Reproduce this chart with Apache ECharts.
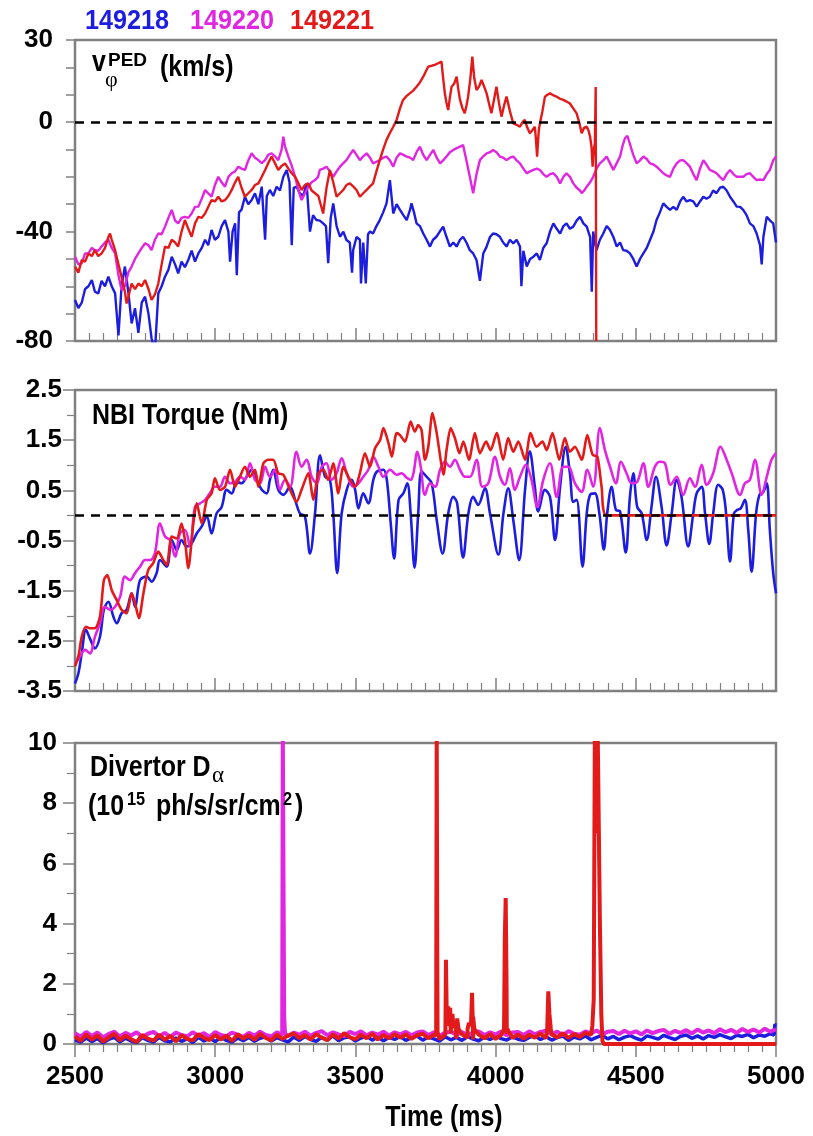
<!DOCTYPE html>
<html><head><meta charset="utf-8">
<script src="https://cdn.jsdelivr.net/npm/echarts@6/dist/echarts.min.js"></script>
<style>html,body{margin:0;padding:0;background:#fff}#c{width:813px;height:1136px}</style>
</head><body><div id="c"></div>
<script>
// ---------- DATA ----------
const shots = ['149218', '149220', '149221'];
const colors = ['#1d1de0', '#e026e0', '#e21a1a'];

// Panel 1: pedestal toroidal rotation (km/s), [time ms, value]
const vpedBlue = [[2500,-65],[2512,-68],[2524,-66],[2536,-61],[2548,-60],[2560,-57.7],[2571,-62],[2583,-62.6],[2595,-58],[2607,-60],[2619,-56.5],[2631,-60],[2643,-62.6],[2655,-78],[2666,-60],[2678,-52.8],[2690,-62],[2702,-73.6],[2714,-68],[2726,-77],[2738,-66],[2750,-63.8],[2762,-70],[2773,-79],[2785,-84],[2797,-62.6],[2809,-60],[2821,-56.5],[2833,-54],[2845,-49.2],[2857,-52],[2868,-55.3],[2880,-51],[2892,-53],[2904,-50.4],[2916,-47],[2928,-51],[2940,-48],[2952,-46],[2964,-43],[2975,-45],[2987,-39.4],[2999,-43],[3011,-41.9],[3023,-38],[3035,-35.8],[3047,-40],[3053,-51],[3062,-40],[3071,-37],[3077,-56],[3085,-33],[3094,-32],[3106,-27.3],[3118,-30],[3130,-28.5],[3142,-26],[3154,-30],[3166,-23.6],[3178,-43],[3184,-27],[3195,-24.8],[3207,-27],[3219,-23.6],[3231,-25],[3243,-20],[3255,-17.5],[3265,-22],[3273,-45],[3280,-24],[3290,-23.6],[3302,-26],[3314,-27],[3326,-22.4],[3338,-40],[3349,-34],[3361,-35.8],[3373,-36],[3385,-37],[3395,-38],[3403,-51.6],[3412,-35],[3421,-29.7],[3433,-38],[3445,-41.9],[3457,-40],[3468,-43.1],[3480,-44],[3488,-55],[3492,-46.8],[3504,-42],[3516,-43],[3520,-59],[3528,-44],[3537,-59],[3545,-41],[3552,-40],[3563,-40.7],[3575,-38],[3587,-35.8],[3599,-33],[3611,-29.7],[3623,-21.2],[3635,-33.4],[3647,-30],[3659,-32.1],[3671,-34],[3683,-35.8],[3695,-32],[3700,-29.7],[3709,-33],[3718,-37],[3730,-38],[3742,-40.7],[3754,-43],[3766,-45.5],[3777,-43],[3789,-41.9],[3801,-40],[3813,-38.2],[3825,-42],[3837,-45.5],[3849,-44],[3861,-45.5],[3873,-43],[3884,-41.9],[3896,-44],[3908,-46.8],[3920,-48],[3932,-50.4],[3944,-58],[3956,-48],[3968,-45.5],[3980,-42],[3991,-40.7],[4003,-41],[4015,-41.9],[4027,-44],[4039,-45.5],[4051,-43],[4063,-44.3],[4075,-43],[4087,-45.5],[4092,-60],[4099,-47],[4111,-52.8],[4123,-50],[4135,-49.2],[4147,-48],[4158,-50.4],[4170,-46],[4182,-44.3],[4194,-40],[4206,-37],[4218,-39],[4230,-40.7],[4242,-38],[4253,-37],[4265,-39],[4277,-38.2],[4289,-36],[4301,-34.6],[4313,-37],[4325,-38.2],[4337,-42],[4343,-62],[4348,-40],[4354,-44],[4360,-46.8],[4372,-43],[4384,-40.7],[4396,-38],[4408,-39.4],[4420,-42],[4432,-45.5],[4444,-44],[4455,-46.8],[4467,-47],[4479,-48],[4491,-50],[4503,-52.8],[4515,-50],[4527,-48],[4539,-46],[4551,-43],[4563,-40],[4574,-35.8],[4586,-33],[4598,-29.7],[4610,-31],[4622,-32.1],[4634,-31],[4646,-32.1],[4658,-29],[4669,-27.3],[4681,-29],[4693,-28.5],[4705,-29],[4717,-30.9],[4729,-29],[4741,-27.3],[4752,-28],[4764,-27.3],[4776,-25],[4788,-26],[4800,-24],[4812,-23.6],[4824,-25],[4836,-27.3],[4848,-29],[4860,-30.9],[4872,-31],[4883,-32.1],[4895,-34],[4907,-37],[4919,-38],[4931,-40.7],[4943,-45],[4949,-52],[4955,-42],[4967,-34.6],[4979,-36],[4990,-37],[5000,-44]];
const vpedMagenta = [[2500,-49.2],[2512,-52],[2524,-51.6],[2536,-48],[2548,-48],[2560,-46],[2571,-46.8],[2583,-47],[2595,-45.5],[2607,-44],[2619,-43],[2631,-46],[2643,-48],[2655,-56],[2666,-61.4],[2678,-60],[2690,-55],[2702,-52.8],[2714,-50],[2726,-48],[2738,-46],[2750,-44.3],[2762,-45],[2773,-46.8],[2785,-43],[2797,-40.7],[2809,-41],[2821,-38.2],[2833,-35],[2845,-32.1],[2857,-36],[2868,-37],[2880,-35],[2892,-34.6],[2904,-35],[2916,-33.4],[2928,-31],[2940,-30.9],[2952,-28],[2964,-24.8],[2975,-26],[2987,-27.3],[2999,-23],[3011,-20],[3023,-22],[3035,-23.6],[3047,-20],[3059,-18.7],[3071,-18],[3082,-16.3],[3094,-17],[3106,-17.5],[3118,-14],[3130,-11.4],[3142,-13],[3154,-13.9],[3166,-15],[3178,-13.9],[3189,-12],[3201,-11.4],[3213,-12.5],[3225,-13.9],[3237,-10],[3243,-5.3],[3249,-9],[3261,-12.6],[3273,-16],[3285,-20],[3297,-25],[3308,-28.5],[3320,-26],[3332,-23.6],[3344,-22],[3356,-21.2],[3367,-20],[3373,-17.5],[3385,-17],[3397,-16.3],[3409,-18],[3421,-20],[3433,-18],[3445,-16.3],[3457,-15],[3468,-13.9],[3480,-12],[3492,-10.2],[3504,-12],[3516,-13.9],[3528,-12.5],[3540,-11.4],[3552,-13],[3563,-15.1],[3575,-14.5],[3587,-13.9],[3599,-13],[3611,-12.6],[3623,-14],[3635,-16.3],[3647,-13],[3659,-11.4],[3671,-12],[3683,-12.6],[3695,-13],[3706,-13.9],[3718,-11],[3730,-9],[3742,-12],[3754,-13.9],[3766,-12],[3778,-10.2],[3790,-13],[3802,-15.1],[3813,-14],[3825,-12.6],[3837,-11],[3849,-10.2],[3861,-9.5],[3873,-9],[3884,-8.4],[3896,-14],[3908,-20],[3920,-26],[3932,-19],[3944,-13.9],[3956,-12.5],[3968,-11.4],[3980,-11],[3991,-10.2],[4003,-11],[4015,-12.6],[4027,-13],[4039,-13.9],[4051,-13],[4063,-12.6],[4075,-14],[4087,-15.1],[4099,-17],[4111,-18.7],[4123,-18],[4135,-17.5],[4147,-17],[4158,-17.5],[4170,-19],[4182,-20],[4194,-19],[4206,-18.7],[4218,-20],[4230,-22.4],[4242,-20],[4253,-18.7],[4265,-20],[4277,-22.4],[4289,-24],[4301,-25],[4307,-26],[4316,-25],[4325,-23.6],[4337,-22],[4348,-20],[4360,-17],[4372,-15.1],[4384,-14],[4396,-12.6],[4408,-15],[4420,-17.5],[4432,-15],[4444,-12.6],[4452,-9],[4461,-6],[4470,-5],[4479,-8],[4491,-12],[4503,-15.1],[4515,-14],[4527,-12.6],[4539,-13.5],[4551,-15.1],[4563,-15.5],[4574,-16.3],[4586,-17.5],[4598,-18.7],[4610,-19.5],[4622,-20],[4634,-17],[4646,-15.1],[4658,-14],[4669,-13.9],[4681,-15],[4693,-16.3],[4705,-19],[4717,-21.2],[4729,-17],[4741,-13.9],[4752,-15.5],[4764,-17.5],[4776,-18],[4788,-18.7],[4800,-20],[4812,-21.2],[4824,-19],[4836,-17.5],[4848,-19],[4860,-20],[4872,-20],[4883,-20],[4895,-19],[4907,-18.7],[4919,-20],[4931,-21.2],[4943,-21],[4955,-21.2],[4967,-19],[4978,-17.5],[4990,-14],[5000,-12.6]];
const vpedRed = [[2500,-52.8],[2512,-55],[2524,-50.4],[2536,-51],[2548,-48],[2560,-49],[2571,-46.8],[2583,-49],[2595,-48],[2607,-46],[2619,-42],[2625,-40.7],[2631,-43],[2643,-46.8],[2655,-52],[2666,-56.5],[2678,-62],[2684,-66.3],[2690,-64],[2702,-59],[2714,-61],[2726,-59],[2738,-60],[2750,-57.7],[2762,-61],[2773,-65],[2785,-63],[2797,-59],[2809,-52],[2821,-45.5],[2833,-46],[2845,-43],[2857,-44],[2868,-45.5],[2880,-40],[2892,-35.8],[2904,-39],[2916,-41.9],[2928,-37],[2940,-34.6],[2952,-35],[2964,-33.4],[2975,-31],[2987,-28.5],[2999,-29],[3011,-27.3],[3023,-29],[3035,-28.5],[3047,-27],[3059,-24.8],[3071,-22],[3082,-20],[3094,-24],[3106,-27.3],[3118,-26],[3130,-24.8],[3142,-23],[3154,-22.4],[3166,-20],[3178,-17.5],[3189,-15],[3201,-12.6],[3213,-15],[3225,-17.5],[3237,-16],[3249,-15.1],[3261,-17],[3273,-18.7],[3285,-20],[3297,-22.4],[3308,-24.8],[3320,-23],[3332,-22.4],[3344,-25],[3356,-26],[3368,-27],[3373,-27.3],[3385,-33.4],[3397,-24],[3409,-17.5],[3421,-22],[3433,-27.3],[3445,-26],[3457,-24.8],[3468,-23],[3480,-22.4],[3492,-23.5],[3504,-24.8],[3516,-27.3],[3528,-26],[3540,-24.8],[3552,-23.5],[3563,-22.4],[3575,-18],[3587,-13.9],[3599,-10],[3611,-6.5],[3623,-4],[3635,-1.7],[3647,0.8],[3659,5],[3670,8.1],[3682,9.5],[3694,10.5],[3706,11.5],[3718,12.9],[3730,14.5],[3742,16.6],[3751,18.5],[3760,20.3],[3772,20.6],[3783,20.9],[3795,21.5],[3807,22.1],[3813,16],[3819,10.5],[3825,7],[3831,4.4],[3837,9],[3843,12.9],[3852,14],[3861,16.6],[3867,12],[3873,8.1],[3882,5],[3890,3.2],[3896,6],[3902,9.3],[3910,16],[3917,23.9],[3924,16],[3932,11.7],[3941,13],[3950,15.4],[3959,13],[3968,10.5],[3976,7],[3985,3.2],[3994,8],[4003,12.9],[4012,7],[4021,2],[4030,6],[4039,9.3],[4051,4],[4063,-0.5],[4075,-1],[4087,-1.7],[4096,0],[4104,0.8],[4113,-2],[4122,-4.1],[4131,-3],[4140,-1.7],[4144,-6.5],[4148,-12.6],[4154,-3],[4158,-0.5],[4167,4],[4176,9.3],[4185,10],[4194,10.5],[4206,9.8],[4218,9.3],[4230,8.5],[4242,8.1],[4253,7.5],[4265,6.8],[4277,5],[4289,3.2],[4298,0],[4307,-4.1],[4316,-2],[4325,-1.7],[4331,-3],[4337,-5.3],[4342,-9],[4346,-16.3],[4350,-10],[4354,-7.8],[4357,12.8],[4359,-80]];

// Panel 2: NBI torque (Nm)
const tqBlue = [[2500,-3.35],[2512,-3.15],[2524,-2.75],[2539,-2.28],[2553,-2.45],[2571,-2.65],[2589,-2.42],[2603,-1.88],[2619,-1.72],[2637,-2.02],[2649,-2.15],[2666,-1.95],[2684,-1.88],[2702,-1.55],[2714,-1.82],[2732,-1.29],[2756,-1.22],[2773,-1.32],[2791,-1.15],[2803,-0.89],[2827,-1.02],[2845,-0.49],[2863,-0.69],[2880,-0.49],[2898,-0.62],[2916,-0.56],[2934,-0.36],[2952,-0.22],[2970,-0.02],[2987,-0.36],[3005,0.04],[3023,0.17],[3041,0.51],[3059,0.44],[3077,0.67],[3094,0.64],[3112,0.77],[3130,0.91],[3148,0.71],[3166,0.51],[3184,0.44],[3195,0.71],[3207,0.91],[3225,0.51],[3243,0.41],[3267,0.57],[3285,0.31],[3302,0.04],[3320,-0.02],[3338,-0.76],[3356,0.04],[3374,1.2],[3392,0.77],[3409,0.71],[3421,0.04],[3435,-1.15],[3451,0.04],[3469,0.51],[3487,0.71],[3499,0.51],[3511,0.14],[3528,0.44],[3546,0.24],[3564,0.71],[3576,0.87],[3600,0.91],[3612,0.71],[3626,-0.16],[3638,-0.86],[3654,0.31],[3671,0.44],[3685,0.64],[3697,0.04],[3711,-1.04],[3724,0.04],[3736,0.88],[3754,0.77],[3772,0.64],[3790,-0.09],[3811,-0.76],[3831,0.04],[3849,0.37],[3863,0.24],[3884,-0.84],[3903,0.04],[3920,0.37],[3938,0.21],[3962,0.54],[3980,0.04],[4010,-0.78],[4028,0.04],[4045,0.54],[4063,-0.09],[4084,-0.89],[4105,0.51],[4122,1.28],[4140,0.57],[4152,0.08],[4176,0.51],[4194,0.37],[4212,-0.49],[4230,0.57],[4250,1.37],[4265,0.84],[4277,0.27],[4289,0.31],[4310,-1.02],[4325,0.04],[4337,0.41],[4354,0.44],[4370,0.04],[4386,-0.68],[4398,0.04],[4414,0.57],[4429,0.11],[4444,0.08],[4464,-0.74],[4479,0.37],[4491,0.84],[4505,0.17],[4521,0.04],[4539,-0.49],[4556,0.17],[4572,0.77],[4592,0.17],[4610,-0.6],[4628,0.04],[4646,0.71],[4663,0.37],[4687,-0.62],[4705,0.04],[4717,0.44],[4735,0.57],[4747,0.04],[4762,-0.57],[4776,0.04],[4794,0.61],[4810,0.51],[4822,0.04],[4836,-0.92],[4850,0.04],[4862,0.11],[4874,0.14],[4889,0.31],[4901,-0.29],[4913,-1.12],[4929,0.04],[4941,0.41],[4955,0.47],[4967,0.64],[4978,-0.29],[4990,-1.15],[5000,-1.55]];
const tqMagenta = [[2500,-2.95],[2518,-2.81],[2536,-2.68],[2553,-2.75],[2571,-2.42],[2589,-2.15],[2607,-1.82],[2625,-1.88],[2643,-1.82],[2661,-1.62],[2678,-1.22],[2696,-1.29],[2714,-1.15],[2732,-1.02],[2750,-0.89],[2767,-0.89],[2785,-0.75],[2803,-0.16],[2821,-0.42],[2839,-0.49],[2857,-0.82],[2874,-0.36],[2892,-0.29],[2910,-0.62],[2928,0.17],[2946,0.24],[2964,0.31],[2981,0.44],[2999,0.57],[3017,0.57],[3035,0.77],[3053,0.64],[3071,0.67],[3088,0.77],[3106,0.71],[3124,1.04],[3142,0.71],[3160,0.64],[3178,0.97],[3195,0.77],[3213,0.91],[3231,0.51],[3249,0.71],[3267,0.57],[3290,1.27],[3308,0.97],[3326,1.11],[3344,0.77],[3362,0.64],[3380,0.97],[3397,1.04],[3415,0.71],[3433,0.84],[3451,1.14],[3469,0.84],[3493,0.57],[3511,0.64],[3528,0.77],[3546,0.91],[3564,1.17],[3582,0.97],[3600,0.77],[3624,0.91],[3647,0.81],[3665,0.84],[3683,0.75],[3697,0.71],[3707,0.84],[3721,1.27],[3733,0.97],[3748,0.41],[3766,0.64],[3784,0.57],[3802,0.91],[3819,1.07],[3837,0.97],[3855,1.11],[3873,0.91],[3891,0.77],[3909,0.77],[3932,1.11],[3953,0.57],[3974,0.64],[3998,1.17],[4016,0.77],[4033,0.61],[4051,0.94],[4069,0.51],[4087,0.77],[4108,1.01],[4128,0.71],[4149,0.17],[4170,0.71],[4194,1.04],[4218,0.37],[4241,0.97],[4259,0.97],[4283,0.64],[4307,0.47],[4327,0.91],[4348,0.57],[4372,1.74],[4390,1.3],[4408,0.97],[4429,0.64],[4447,1.07],[4467,0.84],[4485,0.64],[4505,0.67],[4527,1.04],[4545,0.57],[4568,0.97],[4586,1.07],[4604,1.04],[4624,0.61],[4646,0.77],[4669,0.41],[4693,0.74],[4711,0.57],[4735,1.01],[4753,0.61],[4776,0.84],[4802,1.37],[4824,1.11],[4842,0.84],[4872,0.41],[4889,0.64],[4907,0.71],[4925,1.11],[4949,0.41],[4967,0.77],[4984,1.11],[5000,1.24]];
const tqRed = [[2500,-3.01],[2512,-2.81],[2524,-2.42],[2539,-2.22],[2553,-2.25],[2571,-2.25],[2589,-2.02],[2603,-1.29],[2615,-1.19],[2631,-1.49],[2649,-1.69],[2666,-1.88],[2684,-1.95],[2702,-1.55],[2714,-1.75],[2728,-2.05],[2744,-1.55],[2761,-1.09],[2779,-0.95],[2797,-0.72],[2815,-0.89],[2827,-0.99],[2845,-0.42],[2863,-0.46],[2880,-0.16],[2892,-0.49],[2904,-1.05],[2922,-0.16],[2934,0.24],[2952,-0.16],[2970,0.31],[2987,0.44],[2999,0.74],[3017,0.51],[3035,0.57],[3053,0.91],[3071,0.57],[3088,0.77],[3106,0.97],[3124,0.77],[3142,0.91],[3154,0.57],[3172,1.04],[3189,1.11],[3207,1.11],[3225,0.84],[3243,0.81],[3267,0.51],[3290,0.27],[3308,0.51],[3332,0.84],[3350,0.31],[3368,0.84],[3386,0.91],[3403,0.71],[3421,1.04],[3439,0.44],[3457,0.97],[3475,0.77],[3499,0.57],[3516,0.84],[3534,1.24],[3552,0.97],[3570,1.34],[3588,1.5],[3600,1.74],[3618,1.44],[3630,1.17],[3647,1.64],[3659,1.6],[3677,1.47],[3697,1.87],[3712,1.67],[3724,1.8],[3736,1.7],[3748,1.11],[3760,1.37],[3775,2.04],[3790,1.64],[3804,1.11],[3814,0.81],[3825,1.3],[3840,1.74],[3855,1.54],[3871,1.24],[3885,1.47],[3905,1.11],[3926,1.64],[3944,1.24],[3966,1.47],[3982,1.3],[4004,1.64],[4027,1.11],[4045,1.54],[4063,1.27],[4081,1.47],[4105,1.11],[4125,1.64],[4146,1.37],[4167,1.47],[4182,1.3],[4203,1.64],[4227,1.11],[4247,1.54],[4265,1.27],[4283,1.37],[4307,1.11],[4327,1.6],[4346,1.21],[4363,1.17],[4378,0.57],[4396,0],[5000,0]];

// Panel 3: divertor D-alpha; baseline sampled every 20 ms from 2500, plus spikes [t, v]
const daStart = 2500, daStep = 20;
const daBlueBase = [0.14,0.06,0.20,0.08,0.18,0.04,0.15,0.22,0.07,0.19,0.10,0.05,0.21,0.12,0.06,0.22,0.11,0.07,0.20,0.09,
0.17,0.05,0.22,0.10,0.19,0.08,0.23,0.12,0.06,0.20,0.11,0.22,0.09,0.19,0.24,0.10,0.21,0.14,0.07,0.23,
0.12,0.25,0.15,0.09,0.22,0.13,0.27,0.11,0.21,0.24,0.10,0.20,0.26,0.13,0.23,0.11,0.22,0.15,0.25,0.12,
0.21,0.26,0.13,0.23,0.17,0.10,0.24,0.14,0.22,0.12,0.25,0.16,0.11,0.23,0.15,0.26,0.18,0.13,0.24,0.16,
0.12,0.22,0.27,0.15,0.24,0.13,0.21,0.26,0.12,0.23,0.17,0.27,0.14,0.22,0.29,0.17,0.25,0.14,0.23,0.28,
0.19,0.13,0.27,0.22,0.16,0.29,0.21,0.15,0.26,0.30,0.19,0.27,0.17,0.28,0.22,0.31,0.24,0.18,0.29,0.25,
0.32,0.21,0.30,0.26,0.34,0.62];
const daBlueSpikes = [[4993,0.3],[4996,0.65]];
const daMagentaBase = [0.36,0.24,0.40,0.27,0.38,0.22,0.33,0.41,0.25,0.37,0.28,0.39,0.23,0.34,0.40,0.26,0.37,0.24,0.38,0.30,
0.25,0.39,0.27,0.36,0.23,0.40,0.30,0.26,0.38,0.31,0.24,0.37,0.28,0.41,0.30,0.25,0.39,0.32,0.26,0.38,
0.31,0.41,0.27,0.37,0.43,0.29,0.39,0.32,0.26,0.40,0.33,0.42,0.29,0.38,0.31,0.41,0.28,0.39,0.32,0.40,
0.29,0.38,0.42,0.30,0.39,0.27,0.37,0.41,0.31,0.40,0.29,0.38,0.42,0.30,0.39,0.32,0.41,0.29,0.38,0.40,
0.30,0.42,0.32,0.40,0.44,0.32,0.41,0.29,0.43,0.34,0.31,0.42,0.35,0.45,0.32,0.41,0.43,0.33,0.44,0.35,
0.42,0.32,0.45,0.36,0.43,0.47,0.34,0.44,0.37,0.46,0.35,0.48,0.38,0.45,0.36,0.49,0.39,0.47,0.37,0.50,
0.40,0.48,0.38,0.51,0.41,0.49];
const daMagentaSpikes = [[3239,0.3],[3241,10.5],[3244,10.5],[3246,0.9],[3249,0.35]];
const daRedBase = [0.26,0.10,0.32,0.14,0.29,0.08,0.22,0.34,0.12,0.28,0.16,0.07,0.30,0.18,0.11,0.31,0.14,0.27,0.09,0.29,
0.17,0.12,0.33,0.20,0.13,0.30,0.15,0.28,0.10,0.32,0.18,0.29,0.14,0.34,0.20,0.12,0.31,0.17,0.28,0.35,
0.19,0.30,0.15,0.33,0.21,0.13,0.32,0.18,0.36,0.22,0.16,0.31,0.19,0.34,0.15,0.30,0.19,0.33,0.21,0.32,
0.17,0.29,0.34,0.19,0.31,0.16,0.30,0.35,0.18,0.32,0.21,0.15,0.31,0.19,0.33,0.17,0.30,0.34,0.20,0.32,
0.18,0.31,0.21,0.35,0.19,0.32,0.22,0.36,0.20,0.33,0.23,0.37,0.30];
const daRedSpikes = [[3788,0.3],[3790,10.5],[3792,2.9],[3793,0.4],
[3821,0.4],[3823,2.8],[3826,0.8],[3831,1.25],[3834,0.6],[3838,1.2],[3842,0.7],[3846,1.0],[3850,0.55],[3856,0.7],[3863,0.85],[3868,0.5],[3875,0.45],
[3900,0.5],[3905,0.7],[3912,0.6],[3916,1.7],[3920,0.9],[3924,0.5],
[4030,0.5],[4033,3.6],[4036,4.85],[4039,2.0],[4042,0.5],
[4184,0.5],[4188,1.75],[4192,1.0],[4197,0.5],
[4345,0.6],[4350,1.5],[4354,10.5],[4358,10.5],[4361,7],[4364,10.5],[4368,10.5],[4372,4],[4377,1],[4381,0.1],[4386,0],[5000,0]];

// Axis ticks / labels
const xTickLabels = [2500, 3000, 3500, 4000, 4500, 5000];
const vpedTickLabels = [30, 0, -40, -80];
const tqTickLabels = [2.5, 1.5, 0.5, -0.5, -1.5, -2.5, -3.5];
const daTickLabels = [0, 2, 4, 6, 8, 10];

// ---------- BUILD ----------
function merge(base, spikes) {
  const pts = base.map((v, i) => [daStart + i * daStep, v]);
  return pts.concat(spikes).sort((a, b) => a[0] - b[0]);
}
const FONT = '"Liberation Sans", Arial, Helvetica, sans-serif';
const GRAY = '#808080';
const grids = [
  { left: 75, right: 37, top: 40, height: 301 },
  { left: 75, right: 37, top: 390, height: 301 },
  { left: 75, right: 37, top: 743, height: 301 }
].map(g => Object.assign(g, { show: true, borderColor: GRAY, borderWidth: 2.5, backgroundColor: 'transparent' }));

function xAxis(i) {
  const bottom = i === 2;
  return {
    type: 'value', gridIndex: i, min: 2500, max: 5000, interval: 500,
    axisLine: { show: false, onZero: false },
    splitLine: { show: false },
    axisTick: { show: true, inside: !bottom, length: 13, lineStyle: { color: GRAY, width: 1.5 } },
    minorTick: { show: true, splitNumber: 10, length: 8, lineStyle: { color: GRAY, width: 1.2 } },
    axisLabel: {
      show: bottom, margin: 20, color: '#000', fontFamily: FONT, fontWeight: 'bold', fontSize: 26,
      formatter: v => xTickLabels.includes(v) ? String(v) : ''
    }
  };
}
function yAxis(i, min, max, interval, labels, margin, minor) {
  return {
    type: 'value', gridIndex: i, min, max, interval,
    axisLine: { show: false, onZero: false },
    splitLine: { show: false },
    axisTick: { show: true, inside: false, length: minor ? 12 : 9, lineStyle: { color: GRAY, width: 1.5 } },
    minorTick: { show: !!minor, splitNumber: minor || 5, length: 8, lineStyle: { color: GRAY, width: 1.2 } },
    axisLabel: {
      margin, color: '#000', fontFamily: FONT, fontWeight: 'bold', fontSize: 26,
      formatter: v => {
        const hit = labels.find(l => Math.abs(l - v) < 1e-6);
        return hit === undefined ? '' : String(hit);
      }
    }
  };
}
const zeroLine = {
  silent: true, symbol: 'none', label: { show: false }, animation: false,
  lineStyle: { color: '#000', type: [9, 7], width: 2.5 },
  data: [{ yAxis: 0 }]
};
function line(i, data, color, width, extra) {
  return Object.assign({
    type: 'line', xAxisIndex: i, yAxisIndex: i, data, showSymbol: false, symbol: 'none',
    lineStyle: { color, width }, itemStyle: { color }, animation: false, clip: true
  }, extra || {});
}
const series = [
  line(0, vpedBlue, colors[0], 2.4, { markLine: zeroLine }),
  line(0, vpedMagenta, colors[1], 2.4),
  line(0, vpedRed, colors[2], 2.4),
  line(1, tqBlue, colors[0], 2.6, { smooth: 0.35, markLine: zeroLine }),
  line(1, tqMagenta, colors[1], 2.6, { smooth: 0.35 }),
  line(1, tqRed, colors[2], 2.6, { smooth: 0.25 }),
  line(2, merge(daBlueBase, daBlueSpikes), colors[0], 3.5),
  line(2, merge(daMagentaBase, daMagentaSpikes), colors[1], 4),
  line(2, merge(daRedBase, daRedSpikes), colors[2], 4)
];

function txt(x, y, text, size, color, opts) {
  opts = opts || {};
  return {
    type: 'text', z: 100, silent: true, x, y,
    scaleX: opts.sx === undefined ? 0.86 : opts.sx,
    style: {
      x: 0, y: 0, text, fill: color || '#000',
      fontFamily: opts.family || FONT, fontWeight: opts.weight || 'bold', fontSize: size,
      align: opts.align || 'left', verticalAlign: 'middle'
    }
  };
}
const serif = { family: '"Liberation Serif", "DejaVu Serif", serif', weight: 'normal', sx: 1 };
const graphic = [
  txt(85, 21, shots[0], 28, colors[0], { sx: 0.9 }),
  txt(190, 21, shots[1], 28, colors[1], { sx: 0.9 }),
  txt(290, 21, shots[2], 28, colors[2], { sx: 0.9 }),
  txt(92, 63, 'v', 29),
  txt(108, 61, 'PED', 19, '#000', { sx: 1 }),
  txt(105, 80, 'φ', 22, '#000', serif),
  txt(160, 68, '(km/s)', 29),
  txt(92, 416, 'NBI Torque (Nm)', 29),
  txt(90, 768, 'Divertor D', 29),
  txt(212, 776, 'α', 23, '#000', serif),
  txt(88, 807, '(10', 29),
  txt(127, 800, '15', 19),
  txt(156, 807, 'ph/s/sr/cm', 29),
  txt(283, 800, '2', 19),
  txt(295, 807, ')', 29),
  txt(444, 1118, 'Time (ms)', 29, '#000', { align: 'center' })
];

const option = {
  animation: false,
  backgroundColor: '#fff',
  grid: grids,
  xAxis: [xAxis(0), xAxis(1), xAxis(2)],
  yAxis: [
    yAxis(0, -80, 30, 10, vpedTickLabels, 22, 0),
    yAxis(1, -3.5, 2.5, 1, tqTickLabels, 13, 2),
    yAxis(2, 0, 10, 2, daTickLabels, 18, 2)
  ],
  series,
  graphic
};
const chart = echarts.init(document.getElementById('c'), null, { renderer: 'canvas' });
chart.setOption(option);
</script></body></html>
